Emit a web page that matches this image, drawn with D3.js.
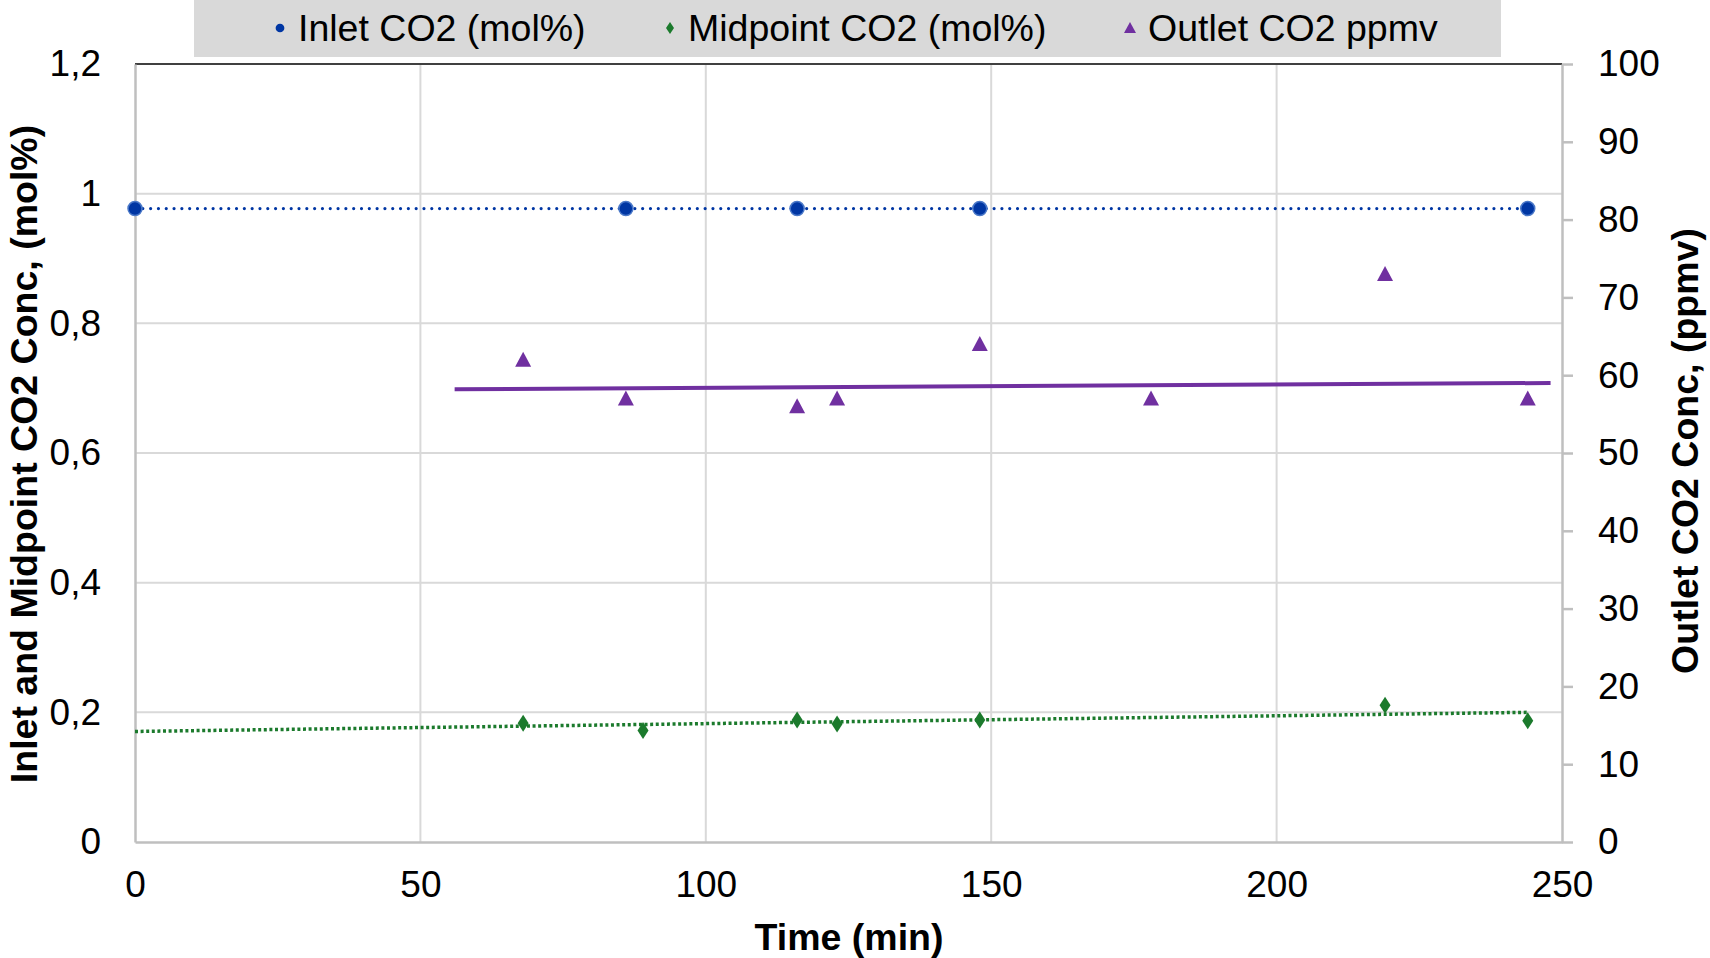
<!DOCTYPE html>
<html>
<head>
<meta charset="utf-8">
<script src="https://cdnjs.cloudflare.com/ajax/libs/d3/7.8.5/d3.min.js"></script>
<style>
  body { margin: 0; background: #fff; }
  svg { display: block; font-family: "Liberation Sans", Arial, sans-serif; }
</style>
</head>
<body>
<svg id="chart" width="1710" height="958"></svg>
<script>
// data
const inletTime = [0, 86, 116, 148, 244];
const inletCO2 = [0.977, 0.977, 0.977, 0.977, 0.977];
const midTime = [68, 89, 116, 123, 148, 219, 244];
const midCO2 = [0.183, 0.172, 0.188, 0.182, 0.188, 0.211, 0.187];
const outTime = [68, 86, 116, 123, 148, 178, 219, 244];
const outPpmv = [62, 57, 56, 57, 64, 57, 73, 57];

// trendlines as drawn (endpoints)
const inletTrend = [[0, 0.977], [244, 0.977]];
const midTrend = [[0, 0.1705], [244, 0.200]];
const outTrend = [[56, 58.2], [248, 59.0]];

const xTicks = [0, 50, 100, 150, 200, 250];
const leftTicks = [0, 0.2, 0.4, 0.6, 0.8, 1, 1.2];
const leftTickLabels = ["0", "0,2", "0,4", "0,6", "0,8", "1", "1,2"];
const rightTicks = [0, 10, 20, 30, 40, 50, 60, 70, 80, 90, 100];

const legendNames = ["Inlet CO2 (mol%)", "Midpoint CO2 (mol%)", "Outlet CO2 ppmv"];

const svg = d3.select("#chart");
const m = {left: 135, right: 1562, top: 64, bottom: 842};

const x = d3.scaleLinear().domain([0, 250]).range([m.left, m.right]);
const yL = d3.scaleLinear().domain([0, 1.2]).range([m.bottom, m.top]);
const yR = d3.scaleLinear().domain([0, 100]).range([m.bottom, m.top]);

const blue = "#0036a3", green = "#1b7a2c", purple = "#7030a0";
const tickFont = 37;

// gridlines
svg.append("g").selectAll("line").data(leftTicks.filter(d => d > 0 && d < 1.2)).join("line")
  .attr("x1", m.left).attr("x2", m.right)
  .attr("y1", d => yL(d)).attr("y2", d => yL(d))
  .attr("stroke", "#d9d9d9").attr("stroke-width", 2);
svg.append("g").selectAll("line").data(xTicks.filter(d => d > 0 && d < 250)).join("line")
  .attr("y1", m.top).attr("y2", m.bottom)
  .attr("x1", d => x(d)).attr("x2", d => x(d))
  .attr("stroke", "#d9d9d9").attr("stroke-width", 2);

// frame
svg.append("line").attr("x1", m.left).attr("x2", m.right).attr("y1", m.top).attr("y2", m.top)
  .attr("stroke", "#404040").attr("stroke-width", 2);

// bottom axis
const xAxis = svg.append("g").attr("transform", `translate(0,${m.bottom})`)
  .call(d3.axisBottom(x).tickValues(xTicks).tickSize(0).tickPadding(29));
xAxis.select(".domain").attr("stroke", "#bfbfbf").attr("stroke-width", 2.5);
xAxis.selectAll("text").attr("font-size", tickFont).attr("fill", "#000").attr("font-family", "Liberation Sans, Arial");

// left axis
const yAxisL = svg.append("g").attr("transform", `translate(${m.left},0)`)
  .call(d3.axisLeft(yL).tickValues(leftTicks).tickFormat((d, i) => leftTickLabels[i]).tickSize(0).tickPadding(34));
yAxisL.select(".domain").attr("stroke", "#bfbfbf").attr("stroke-width", 2.5);
yAxisL.selectAll("text").attr("font-size", tickFont).attr("fill", "#000").attr("font-family", "Liberation Sans, Arial");

// right axis
const yAxisR = svg.append("g").attr("transform", `translate(${m.right},0)`)
  .call(d3.axisRight(yR).tickValues(rightTicks).tickSize(11).tickSizeOuter(0).tickPadding(25));
yAxisR.select(".domain").attr("stroke", "#bfbfbf").attr("stroke-width", 2.5);
yAxisR.selectAll(".tick line").attr("stroke", "#bfbfbf").attr("stroke-width", 2.5);
yAxisR.selectAll("text").attr("font-size", tickFont).attr("fill", "#000").attr("font-family", "Liberation Sans, Arial");

// axis titles
svg.append("text").attr("x", 849).attr("y", 950).attr("text-anchor", "middle")
  .attr("font-size", 37.5).attr("font-weight", "bold").text("Time (min)");
svg.append("text").attr("transform", "translate(37,454) rotate(-90)").attr("text-anchor", "middle")
  .attr("font-size", 37.5).attr("font-weight", "bold").text("Inlet and Midpoint CO2 Conc, (mol%)");
svg.append("text").attr("transform", "translate(1698,451) rotate(-90)").attr("text-anchor", "middle")
  .attr("font-size", 37.5).attr("font-weight", "bold").text("Outlet CO2 Conc, (ppmv)");

// trendlines
const lineL = d3.line().x(d => x(d[0])).y(d => yL(d[1]));
const lineR = d3.line().x(d => x(d[0])).y(d => yR(d[1]));
svg.append("path").attr("d", lineL(inletTrend)).attr("fill", "none")
  .attr("stroke", blue).attr("stroke-width", 3.2).attr("stroke-linecap", "round")
  .attr("stroke-dasharray", "0.01 7.8");
svg.append("path").attr("d", lineL(midTrend)).attr("fill", "none")
  .attr("stroke", green).attr("stroke-width", 3.5)
  .attr("stroke-dasharray", "3 2.6");
svg.append("path").attr("d", lineR(outTrend)).attr("fill", "none")
  .attr("stroke", purple).attr("stroke-width", 4);

// markers
const diamond = "M0,-8.5L5.5,0L0,8.5L-5.5,0Z";
const tri = "M0,-8L8,7L-8,7Z";

svg.append("g").selectAll("circle").data(inletTime).join("circle")
  .attr("cx", d => x(d)).attr("cy", (d, i) => yL(inletCO2[i])).attr("r", 7)
  .attr("fill", blue).attr("stroke", "#4a78c8").attr("stroke-width", 1.5);
svg.append("g").selectAll("path").data(midTime).join("path")
  .attr("transform", (d, i) => `translate(${x(d)},${yL(midCO2[i])})`)
  .attr("d", diamond).attr("fill", green);
svg.append("g").selectAll("path").data(outTime).join("path")
  .attr("transform", (d, i) => `translate(${x(d)},${yR(outPpmv[i])})`)
  .attr("d", tri).attr("fill", purple);

// legend
svg.append("rect").attr("x", 194).attr("y", 0).attr("width", 1307).attr("height", 57).attr("fill", "#d9d9d9");
const lgX = [280, 670, 1130];
const lg = svg.append("g").selectAll("g").data(legendNames).join("g")
  .attr("transform", (d, i) => `translate(${lgX[i]},28)`);
lg.append("path").attr("d", (d, i) => i === 0 ? d3.symbol(d3.symbolCircle, 60)() : i === 1 ? "M0,-6L4,0L0,6L-4,0Z" : "M0,-6L6,5L-6,5Z")
  .attr("fill", (d, i) => [blue, green, purple][i]);
lg.append("text").attr("x", 18).attr("y", 13).attr("font-size", 37.5).text(d => d);
</script>
</body>
</html>
